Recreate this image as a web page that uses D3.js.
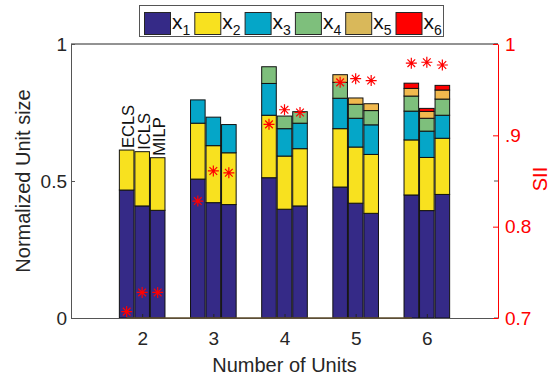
<!DOCTYPE html>
<html>
<head>
<meta charset="utf-8">
<script src="https://cdn.jsdelivr.net/npm/d3@7/dist/d3.min.js"></script>
<style>
  html, body { margin: 0; padding: 0; background: #fff; }
  svg { display: block; font-family: "Liberation Sans", Arial, Helvetica, sans-serif; }
</style>
</head>
<body>
<svg id="chart" width="552" height="377"></svg>
<script>
// Number of units on the x axis and the three sizing methods per group
const units = [2, 3, 4, 5, 6];
const methods = ["ECLS", "ICLS", "MILP"];
const componentKeys = ["x1", "x2", "x3", "x4", "x5", "x6"];

// Normalized size of each unit, per group [ECLS, ICLS, MILP]
const x1 = [[0.467, 0.409, 0.393], [0.507, 0.421, 0.414], [0.512, 0.397, 0.409], [0.478, 0.419, 0.382], [0.449, 0.392, 0.451]];
const x2 = [[0.146, 0.198, 0.192], [0.204, 0.208, 0.189], [0.228, 0.194, 0.209], [0.213, 0.205, 0.215], [0.201, 0.194, 0.205]];
const x3 = [[0, 0, 0], [0.085, 0.104, 0.103], [0.116, 0.100, 0.093], [0.111, 0.105, 0.108], [0.105, 0.096, 0.084]];
const x4 = [[0, 0, 0], [0, 0, 0], [0.061, 0.046, 0.042], [0.058, 0.051, 0.052], [0.055, 0.047, 0.059]];
const x5 = [[0, 0, 0], [0, 0, 0], [0, 0, 0], [0.028, 0.023, 0.025], [0.028, 0.025, 0.033]];
const x6 = [[0, 0, 0], [0, 0, 0], [0, 0, 0], [0, 0, 0], [0.019, 0.011, 0.017]];

// SII per group [ECLS, ICLS, MILP] (right axis)
const sii = [[0.707, 0.728, 0.728], [0.828, 0.861, 0.859], [0.912, 0.928, 0.925], [0.958, 0.962, 0.960], [0.979, 0.980, 0.977]];

const leftTicks = [0, 0.5, 1];
const leftTickLabels = ["0", "0.5", "1"];
const rightTicks = [0.7, 0.8, 0.9, 1];
const rightTickLabels = ["0.7", "0.8", ".9", "1"];

const barColors = ["#352a87", "#f8e11f", "#05a6c8", "#7ebf7c", "#f1b94e", "#ff0000"];
const legendColors = ["#352a87", "#f8e11f", "#05a6c8", "#7ebf7c", "#d9b85a", "#ff0000"];

const tickFont = 19;
const titleFont = 20;

const svg = d3.select("#chart");
const plot = { left: 71, right: 498, top: 44, bottom: 318 };

const x = d3.scaleLinear().domain([1, 7]).range([plot.left, plot.right]);
const yL = d3.scaleLinear().domain([0, 1]).range([plot.bottom, plot.top]);
const yR = d3.scaleLinear().domain([0.7, 1]).range([plot.bottom, plot.top]);

const barOffset = 0.218;   // spacing between the three bars of a group (x units)
const barWidth = 0.205;    // bar width (x units)
const bw = x(1 + barWidth) - x(1);

// One row per (unit, method)
const comps = [x1, x2, x3, x4, x5, x6];
const rows = [];
units.forEach((u, gi) => {
  methods.forEach((m, mi) => {
    const r = { unit: u, method: m, mi: mi, sii: sii[gi][mi] };
    componentKeys.forEach((k, ki) => { r[k] = comps[ki][gi][mi]; });
    rows.push(r);
  });
});
const cx = d => x(d.unit + (d.mi - 1) * barOffset);

const stacked = d3.stack().keys(componentKeys)(rows);

// Bars
const gBars = svg.append("g");
stacked.forEach((layer, li) => {
  gBars.selectAll(null)
    .data(layer)
    .join("rect")
    .attr("x", d => cx(d.data) - bw / 2)
    .attr("width", bw)
    .attr("y", d => yL(d[1]))
    .attr("height", d => yL(d[0]) - yL(d[1]))
    .attr("fill", barColors[li])
    .attr("stroke", "#111")
    .attr("stroke-width", 1);
});

// Method labels above the first group
const firstGroup = rows.filter(d => d.unit === units[0]);
svg.selectAll(null)
  .data(firstGroup)
  .join("text")
  .attr("transform", d => {
    const top = yL(componentKeys.reduce((s, k) => s + d[k], 0));
    return `translate(${cx(d) + bw / 2 + 0.5},${top - 2}) rotate(-90)`;
  })
  .attr("font-size", 16.5)
  .attr("fill", "#111")
  .text(d => d.method);

// SII markers (asterisks)
const star = r => `M${-r},0H${r}M0,${-r}V${r}M${-r * 0.7},${-r * 0.7}L${r * 0.7},${r * 0.7}M${-r * 0.7},${r * 0.7}L${r * 0.7},${-r * 0.7}`;
svg.selectAll(null)
  .data(rows)
  .join("path")
  .attr("transform", d => `translate(${cx(d)},${yR(d.sii)})`)
  .attr("d", star(5.5))
  .attr("stroke", "#ff0000")
  .attr("stroke-width", 1.2)
  .attr("fill", "none");

// Box top edge
svg.append("line")
  .attr("x1", plot.left).attr("x2", plot.right)
  .attr("y1", plot.top).attr("y2", plot.top)
  .attr("stroke", "#262626").attr("stroke-width", 1);

// Bottom axis
const axB = svg.append("g")
  .attr("transform", `translate(0,${plot.bottom})`)
  .call(d3.axisBottom(x).tickValues(units).tickFormat(d3.format("d")).tickSize(-4).tickSizeOuter(0).tickPadding(13.5));
axB.select(".domain").attr("stroke", "#555");
axB.selectAll(".tick line").attr("stroke", "#262626");
axB.selectAll("text").attr("font-size", tickFont).attr("fill", "#262626").attr("font-family", null);

// Bar baseline, drawn over the axis
svg.append("line")
  .attr("x1", x(1.78)).attr("x2", x(5.79))
  .attr("y1", yL(0)).attr("y2", yL(0))
  .attr("stroke", "#5e4c2c").attr("stroke-width", 1.5);

// Left axis
const axL = svg.append("g")
  .attr("transform", `translate(${plot.left},0)`)
  .call(d3.axisLeft(yL).tickValues(leftTicks).tickFormat((d, i) => leftTickLabels[i]).tickSize(-4).tickSizeOuter(0).tickPadding(4));
axL.select(".domain").attr("stroke", "#555");
axL.selectAll(".tick line").attr("stroke", "#555");
axL.selectAll("text").attr("font-size", tickFont).attr("fill", "#262626").attr("font-family", null);

// Left ticks mirrored on the right edge
svg.selectAll(null)
  .data(leftTicks)
  .join("line")
  .attr("x1", plot.right - 4).attr("x2", plot.right)
  .attr("y1", d => yL(d)).attr("y2", d => yL(d))
  .attr("stroke", "#555");

// Right axis
const axR = svg.append("g")
  .attr("transform", `translate(${plot.right},0)`)
  .call(d3.axisRight(yR).tickValues(rightTicks).tickFormat((d, i) => rightTickLabels[i]).tickSize(-5).tickSizeOuter(0).tickPadding(7));
axR.select(".domain").attr("stroke", "#ff0000");
axR.selectAll(".tick line").attr("stroke", "#ff0000");
axR.selectAll("text").attr("font-size", tickFont).attr("fill", "#ff0000").attr("font-family", null);

// Axis titles
svg.append("text")
  .attr("transform", `translate(30,${(plot.top + plot.bottom) / 2}) rotate(-90)`)
  .attr("text-anchor", "middle")
  .attr("font-size", titleFont)
  .attr("fill", "#262626")
  .text("Normalized Unit size");

svg.append("text")
  .attr("x", (plot.left + plot.right) / 2)
  .attr("y", 371.5)
  .attr("text-anchor", "middle")
  .attr("font-size", titleFont)
  .attr("fill", "#262626")
  .text("Number of Units");

svg.append("text")
  .attr("transform", `translate(547,179) rotate(-90)`)
  .attr("text-anchor", "middle")
  .attr("font-size", titleFont)
  .attr("fill", "#ff0000")
  .text("SII");

// Legend
const lg = svg.append("g");
lg.append("rect")
  .attr("x", 139.5).attr("y", 5.5).attr("width", 304).attr("height", 31)
  .attr("fill", "#fff").attr("stroke", "#555").attr("stroke-width", 1);
componentKeys.forEach((k, i) => {
  const lx = 144 + i * 50.3;
  lg.append("rect")
    .attr("x", lx + 0.5).attr("y", 12.5).attr("width", 26).attr("height", 22)
    .attr("fill", legendColors[i]).attr("stroke", "#262626").attr("stroke-width", 1);
  const t = lg.append("text")
    .attr("x", lx + 28).attr("y", 28.5)
    .attr("font-size", 21).attr("fill", "#111");
  t.append("tspan").text("x");
  t.append("tspan").attr("font-size", 14).attr("dy", 6).text(String(i + 1));
});
</script>
</body>
</html>
